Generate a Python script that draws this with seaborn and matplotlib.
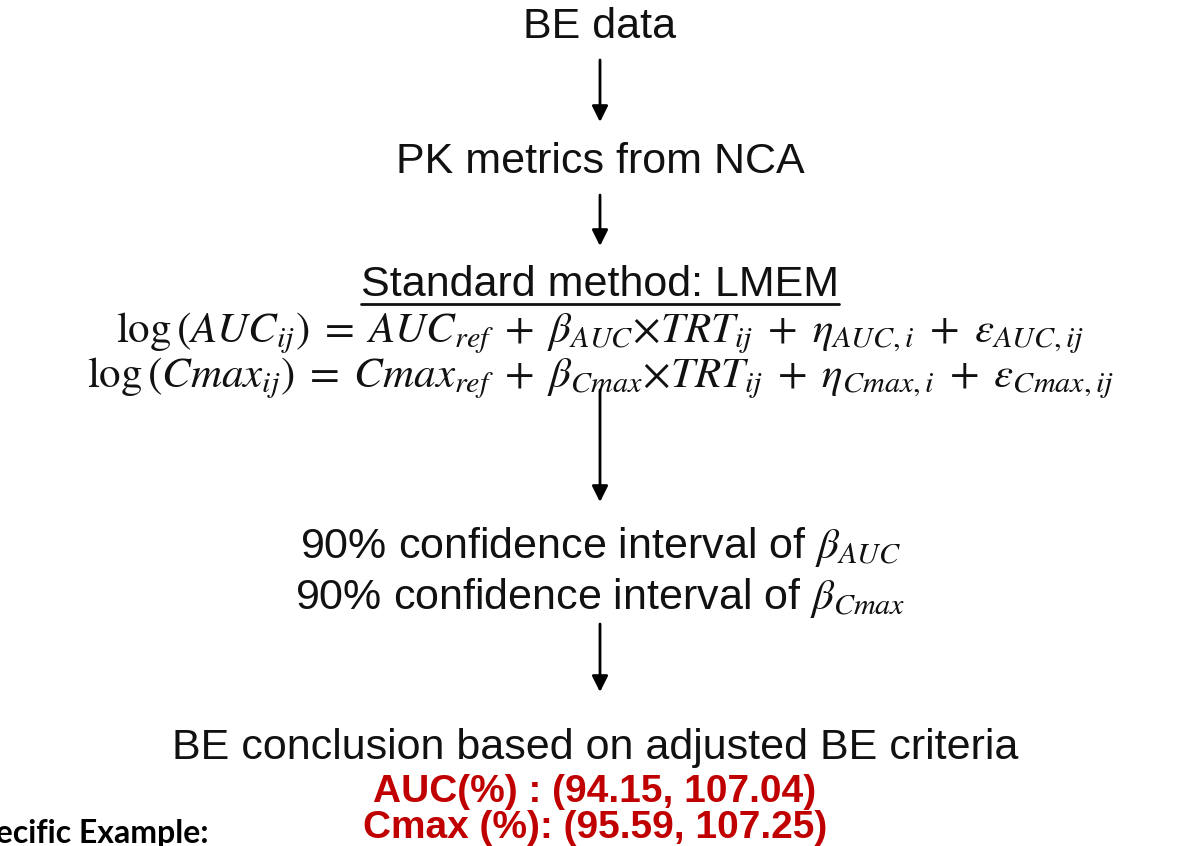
import matplotlib
matplotlib.use("Agg")
import matplotlib.pyplot as plt
import seaborn as sns

sns.set_theme(style="white")
plt.rcParams["font.family"] = ["Liberation Sans", "DejaVu Sans"]
plt.rcParams["mathtext.fontset"] = "stix"

# flow chart content
steps = ["BE data", "PK metrics from NCA"]
method_title = "Standard method: LMEM"
equations = [
    r"$\log\left(AUC_{ij}\right) \;=\; AUC_{ref} \;+\; \beta_{AUC}{\times}TRT_{ij} \;+\; \eta_{AUC,i} \;+\; \varepsilon_{AUC,ij}$",
    r"$\log\left(Cmax_{ij}\right) \;=\; Cmax_{ref} \;+\; \beta_{Cmax}{\times}TRT_{ij} \;+\; \eta_{Cmax,i} \;+\; \varepsilon_{Cmax,ij}$",
]
ci_lines = [r"90% confidence interval of $\beta_{AUC}$",
            r"90% confidence interval of $\beta_{Cmax}$"]
conclusion = "BE conclusion based on adjusted BE criteria"
results = ["AUC(%) : (94.15, 107.04)", "Cmax (%): (95.59, 107.25)"]
side_label = "Specific Example:"

# layout (pixel coordinates, y downwards)
cx = 600
step_y = [27, 162]
title_y = 285
eq_y = [333, 378]
ci_y = [547, 598]
concl_y = 748
result_y = [792, 828]
arrows = [(60, 122), (195, 246), (390, 502), (624, 692)]

fig = plt.figure(figsize=(11.91, 8.46), dpi=100)
ax = fig.add_axes([0, 0, 1, 1])
ax.set_xlim(0, 1191)
ax.set_ylim(846, 0)
ax.axis("off")

txt_kw = dict(ha="center", va="center", color="#111111", fontsize=31)

for y, s in zip(step_y, steps):
    ax.text(cx, y, s, **txt_kw)

title = ax.text(cx, title_y, method_title, **txt_kw)

for y, eq in zip(eq_y, equations):
    ax.text(cx, y, eq, ha="center", va="center", color="#111111", fontsize=31)

for y, s in zip(ci_y, ci_lines):
    ax.text(cx, y, s, **txt_kw)

ax.text(cx - 5, concl_y, conclusion, **txt_kw)

for y, s in zip(result_y, results):
    ax.text(cx - 5, y, s, ha="center", va="center", color="#c00000",
            fontsize=28, fontweight="bold")

ax.text(-40, 833, side_label, ha="left", va="center", color="black",
        fontsize=23, fontweight="bold", family=["Lato", "DejaVu Sans"])

for y0, y1 in arrows:
    ax.annotate("", xy=(cx, y1), xytext=(cx, y0),
                arrowprops=dict(arrowstyle="-|>", color="black", lw=2,
                                mutation_scale=24, shrinkA=0, shrinkB=0))

# underline for the method title
fig.canvas.draw()
bb = title.get_window_extent(renderer=fig.canvas.get_renderer())
inv = ax.transData.inverted()
(x0, yb), (x1, _) = inv.transform([[bb.x0, bb.y0], [bb.x1, bb.y1]])
ax.plot([x0, x1], [yb - 1, yb - 1], color="#111111", lw=2)

fig.savefig("out.png", dpi=100)
